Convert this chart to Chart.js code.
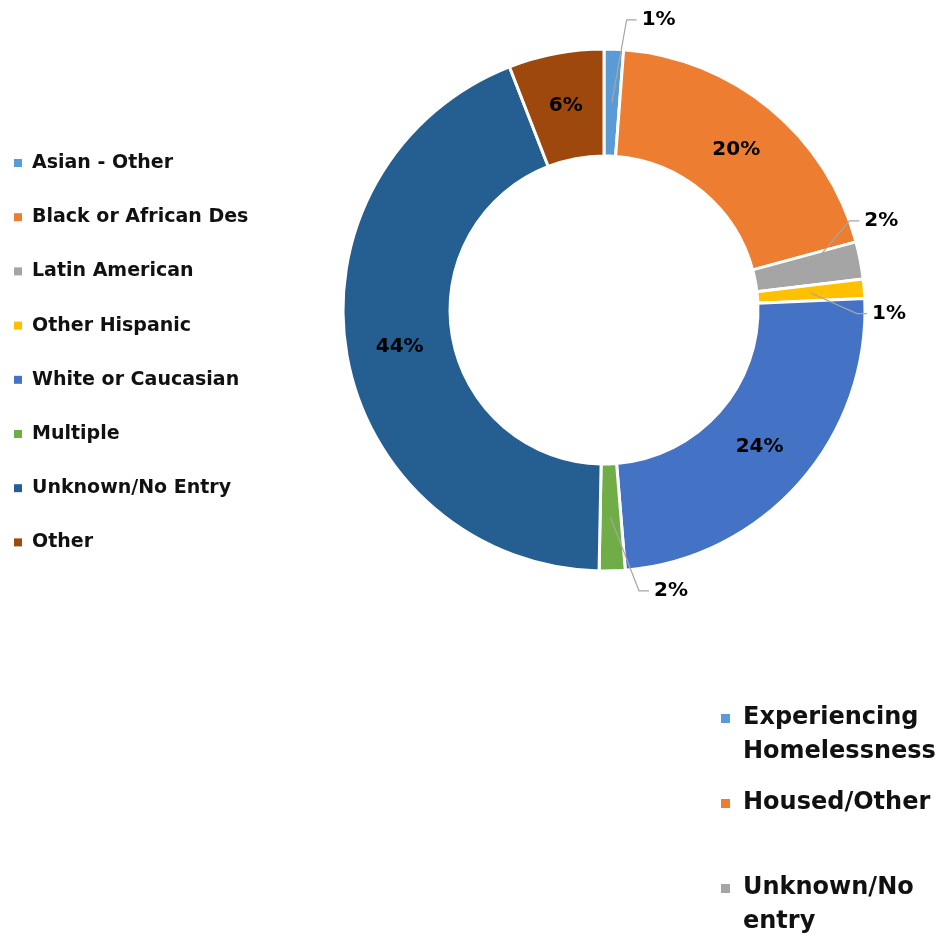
<!DOCTYPE html>
<html lang="en">
<head>
<meta charset="utf-8">
<title>Race / Ethnicity</title>
<script src="https://cdn.jsdelivr.net/npm/chart.js@4/dist/chart.umd.min.js"></script>
<style>
  body { margin: 0; background: #fff; }
  #wrap { width: 942px; height: 937px; }
</style>
</head>
<body>
<div id="wrap"><canvas id="raceChart" width="942" height="937"></canvas></div>

<script>
// slices of the doughnut
var categories = ['Asian - Other', 'Black or African Des', 'Latin American', 'Other Hispanic',
                  'White or Caucasian', 'Multiple', 'Unknown/No Entry', 'Other'];
var shares = [1.2, 19.6, 2.3, 1.2, 24.4, 1.6, 43.8, 5.9];
var sliceColors = ['#5B9BD5', '#ED7D31', '#A5A5A5', '#FFC000', '#4472C4', '#70AD47', '#255E91', '#9E480E'];

// second legend (bottom right)
var statusLabels = ['Experiencing Homelessness', 'Housed/Other', 'Unknown/No entry'];
var statusColors = ['#5B9BD5', '#ED7D31', '#A5A5A5'];

var FONT = '"DejaVu Sans", sans-serif';

// small slices get their label outside with a leader line
var callouts = {
  0: {turn: 2.3, reach: 30},
  2: {turn: -9, reach: 0},
  3: {turn: 5.5, reach: -8},
  5: {turn: -5.3, reach: 22}
};

var percentLabels = {
  id: 'percentLabels',
  afterDatasetsDraw: function(chart) {
    var ctx = chart.ctx;
    var meta = chart.getDatasetMeta(0);
    var data = chart.data.datasets[0].data;
    var total = data.reduce(function(a, b) { return a + b; }, 0);
    ctx.save();
    ctx.font = 'bold 20px ' + FONT;
    ctx.fillStyle = '#000';
    meta.data.forEach(function(arc, i) {
      var p = arc.getProps(['x', 'y', 'startAngle', 'endAngle', 'innerRadius', 'outerRadius'], true);
      var mid = (p.startAngle + p.endAngle) / 2;
      var midR = (p.innerRadius + p.outerRadius) / 2;
      var text = Math.round(data[i] / total * 100) + '%';
      var c = callouts[i];
      if (!c) {
        ctx.textAlign = 'center';
        ctx.textBaseline = 'middle';
        ctx.fillText(text, p.x + Math.cos(mid) * midR, p.y + Math.sin(mid) * midR);
        return;
      }
      var a = mid + c.turn * Math.PI / 180;
      var r = p.outerRadius + c.reach;
      var sx = p.x + Math.cos(mid) * midR, sy = p.y + Math.sin(mid) * midR;
      var ax = p.x + Math.cos(a) * r, ay = p.y + Math.sin(a) * r;
      ctx.strokeStyle = '#A6A6A6';
      ctx.lineWidth = 1.2;
      ctx.beginPath();
      ctx.moveTo(sx, sy);
      ctx.lineTo(ax, ay);
      ctx.lineTo(ax + 10, ay);
      ctx.stroke();
      ctx.textAlign = 'left';
      ctx.textBaseline = 'middle';
      ctx.fillText(text, ax + 15, ay);
    });
    ctx.restore();
  }
};

var legends = {
  id: 'legends',
  afterDraw: function(chart) {
    var ctx = chart.ctx;
    ctx.save();
    ctx.textBaseline = 'middle';
    ctx.textAlign = 'left';

    // left legend
    ctx.font = 'bold 19px ' + FONT;
    categories.forEach(function(name, i) {
      var y = 163 + i * 54.2;
      ctx.fillStyle = sliceColors[i];
      ctx.fillRect(14, y - 4, 8, 8);
      ctx.fillStyle = '#111';
      ctx.fillText(name, 32, y);
    });

    // bottom right legend, wrapped text
    ctx.font = 'bold 24px ' + FONT;
    statusLabels.forEach(function(name, i) {
      var y = 718 + i * 85;
      ctx.fillStyle = statusColors[i];
      ctx.fillRect(721, y - 4, 9, 9);
      ctx.fillStyle = '#111';
      var words = name.split(' '), line = '', lines = [];
      words.forEach(function(w) {
        var test = line ? line + ' ' + w : w;
        if (ctx.measureText(test).width > 198 && line) { lines.push(line); line = w; }
        else line = test;
      });
      lines.push(line);
      lines.forEach(function(l, k) { ctx.fillText(l, 743, y + k * 34); });
    });
    ctx.restore();
  }
};

new Chart('raceChart', {
  type: 'doughnut',
  data: {
    labels: categories,
    datasets: [{
      data: shares,
      backgroundColor: sliceColors,
      borderColor: '#fff',
      borderWidth: 3,
      hoverOffset: 0
    }]
  },
  options: {
    responsive: false,
    animation: false,
    radius: 261,
    cutout: '59%',
    layout: { padding: { left: 344, right: 78, top: 50, bottom: 367 } },
    plugins: {
      legend: { display: false },
      tooltip: { enabled: false }
    }
  },
  plugins: [percentLabels, legends]
});
</script>
</body>
</html>
